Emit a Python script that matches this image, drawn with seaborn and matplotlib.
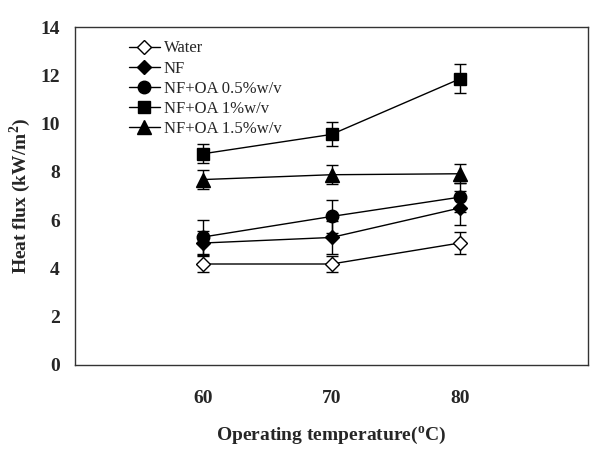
import matplotlib
matplotlib.use('Agg')
import matplotlib.pyplot as plt
import seaborn as sns

# data
temps = [60, 70, 80]
series = ['Water', 'NF', 'NF+OA 0.5%w/v', 'NF+OA 1%w/v', 'NF+OA 1.5%w/v']
water = [4.18, 4.18, 5.05]
nf = [5.05, 5.28, 6.5]
oa05 = [5.3, 6.15, 6.95]
oa1 = [8.75, 9.55, 11.85]
oa15 = [7.68, 7.88, 7.92]
water_err = [0.35, 0.35, 0.45]
nf_err = [0.5, 0.7, 0.7]
oa05_err = [0.7, 0.7, 0.6]
oa1_err = [0.4, 0.5, 0.6]
oa15_err = [0.4, 0.4, 0.4]

sns.set_style('white')
plt.rcParams['font.family'] = ['Liberation Serif', 'DejaVu Serif']
plt.rcParams['mathtext.fontset'] = 'custom'
plt.rcParams['mathtext.rm'] = 'Liberation Serif'
plt.rcParams['mathtext.bf'] = 'Liberation Serif:bold'

fig = plt.figure(figsize=(6, 4.51), dpi=100)
ax = fig.add_axes([0.125, 0.191, 0.855, 0.749])

vals = [water, nf, oa05, oa1, oa15]
errs = [water_err, nf_err, oa05_err, oa1_err, oa15_err]
markers = ['D', 'D', 'o', 's', '^']
faces = ['white', 'black', 'black', 'black', 'black']
msizes = [7, 7, 9, 9, 9.5]

for name, v, e, m, fc, ms in zip(series, vals, errs, markers, faces, msizes):
    ax.errorbar(temps, v, yerr=e, fmt='none', ecolor='black', elinewidth=1,
                capsize=4, capthick=1, zorder=2)
    sns.lineplot(x=temps, y=v, ax=ax, color='black', linewidth=1, marker=m,
                 markersize=ms, markerfacecolor=fc, markeredgecolor='black',
                 markeredgewidth=1, label=name, zorder=3)

ax.set_xlim(50, 90)
ax.set_ylim(0, 14)
ax.set_xticks(temps)
ax.set_yticks(range(0, 15, 2))
for lab in ax.get_xticklabels() + ax.get_yticklabels():
    lab.set_fontweight('bold')
    lab.set_fontsize(14)
ax.tick_params(axis='x', direction='out', length=4, color='#cccccc', pad=14)
ax.tick_params(axis='y', direction='out', length=4, color='#cccccc', pad=7)
for s in ax.spines.values():
    s.set_color('#333333')
    s.set_linewidth(1)

ax.set_xlabel(r'Operating temperature($^{\mathbf{o}}$C)', fontsize=14,
              fontweight='bold', labelpad=13)
ax.set_ylabel(r'Heat flux (kW/m$^{\mathbf{2}}$)', fontsize=14,
              fontweight='bold', labelpad=5)

leg = ax.legend(loc='upper left', bbox_to_anchor=(0.085, 0.99), frameon=False,
                fontsize=12, handlelength=1.9, handletextpad=0.2,
                labelspacing=0.25, borderaxespad=0.2)

fig.savefig('out.png', dpi=100)
